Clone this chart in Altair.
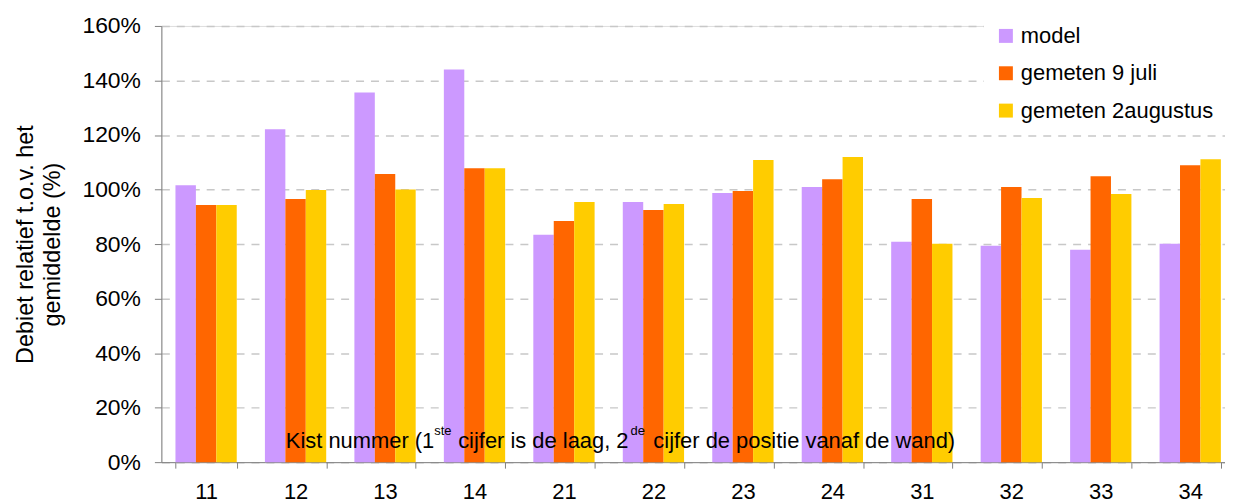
import altair as alt
import pandas as pd

categories = ["11", "12", "13", "14", "21", "22", "23", "24", "31", "32", "33", "34"]
series = ["model", "gemeten 9 juli", "gemeten 2augustus"]
model = [101.6, 122.1, 135.6, 144.0, 83.4, 95.4, 98.7, 100.9, 80.8, 79.4, 77.9, 80.1]
juli = [94.3, 96.5, 105.7, 107.8, 88.5, 92.5, 99.5, 103.8, 96.5, 100.9, 104.9, 108.9]
aug = [94.3, 99.8, 100.0, 107.8, 95.4, 94.7, 110.8, 111.9, 80.1, 96.9, 98.4, 111.1]
colors = ["#CC99FF", "#FF6600", "#FFCC00"]
y_ticks = [0, 0.2, 0.4, 0.6, 0.8, 1.0, 1.2, 1.4, 1.6]

rows = []
for s, vals in zip(series, [model, juli, aug]):
    for c, v in zip(categories, vals):
        rows.append({"kist": c, "serie": s, "waarde": v / 100.0})
df = pd.DataFrame(rows)

FONT = "Liberation Sans"
W, H = 1068, 438

bars = alt.Chart(df).mark_bar().encode(
    x=alt.X("kist:N", sort=categories,
            scale=alt.Scale(paddingInner=0.315, paddingOuter=0.1575, range=[0, 1078]),
            axis=alt.Axis(title=None, labelAngle=0, tickBand="extent", tickSize=6,
                          labelFontSize=22, labelPadding=14, labelColor="#000000",
                          domainColor="#808080", tickColor="#808080", grid=False)),
    xOffset=alt.XOffset("serie:N", sort=series, scale=alt.Scale(paddingInner=0, paddingOuter=0)),
    y=alt.Y("waarde:Q", scale=alt.Scale(domain=[0, 1.6], nice=False),
            axis=alt.Axis(values=y_ticks, format=".0%", title=["Debiet relatief t.o.v. het", "gemiddelde (%)"],
                          titleFontSize=23.5, titleFontWeight="normal", titleLineHeight=28,
                          titlePadding=17, labelFontSize=23, labelPadding=14, tickSize=7,
                          labelColor="#000000", titleColor="#000000",
                          domainColor="#808080", tickColor="#808080",
                          grid=True, gridDash=[8, 7], gridColor="#c8c8c8", gridWidth=1.5)),
    color=alt.Color("serie:N", sort=series,
                    scale=alt.Scale(domain=series, range=colors),
                    legend=alt.Legend(title=None, orient="none", legendX=826, legendY=-12,
                                      fillColor="#ffffff", padding=11, symbolType="square",
                                      symbolSize=196, symbolStrokeWidth=0, symbolOpacity=1,
                                      labelFontSize=22, labelFont=FONT, labelColor="#000000",
                                      labelLimit=0, rowPadding=15.5, labelOffset=4)),
)

one = alt.Data(values=[{}])

def txt(s, x, y, size):
    return alt.Chart(one).mark_text(text=s, align="left", baseline="alphabetic",
                                    fontSize=size, font=FONT, color="#000000").encode(
        x=alt.value(x), y=alt.value(y))

labels = [
    txt("Kist nummer (1", 125, 424, 22),
    txt("ste", 274, 411, 13),
    txt("cijfer is de laag, 2", 298, 424, 22),
    txt("de", 471, 411, 13),
    txt("cijfer de positie vanaf de wand)", 494, 424, 22),
]

chart = alt.layer(bars, *labels).properties(
    width=W, height=H,
    autosize=alt.AutoSizeParams(type="none"),
    padding={"left": 154, "top": 17, "right": 0, "bottom": 41},
).configure_view(stroke=None).configure(font=FONT)

chart.save("out.html", embed_options={"renderer": "svg", "actions": False})
